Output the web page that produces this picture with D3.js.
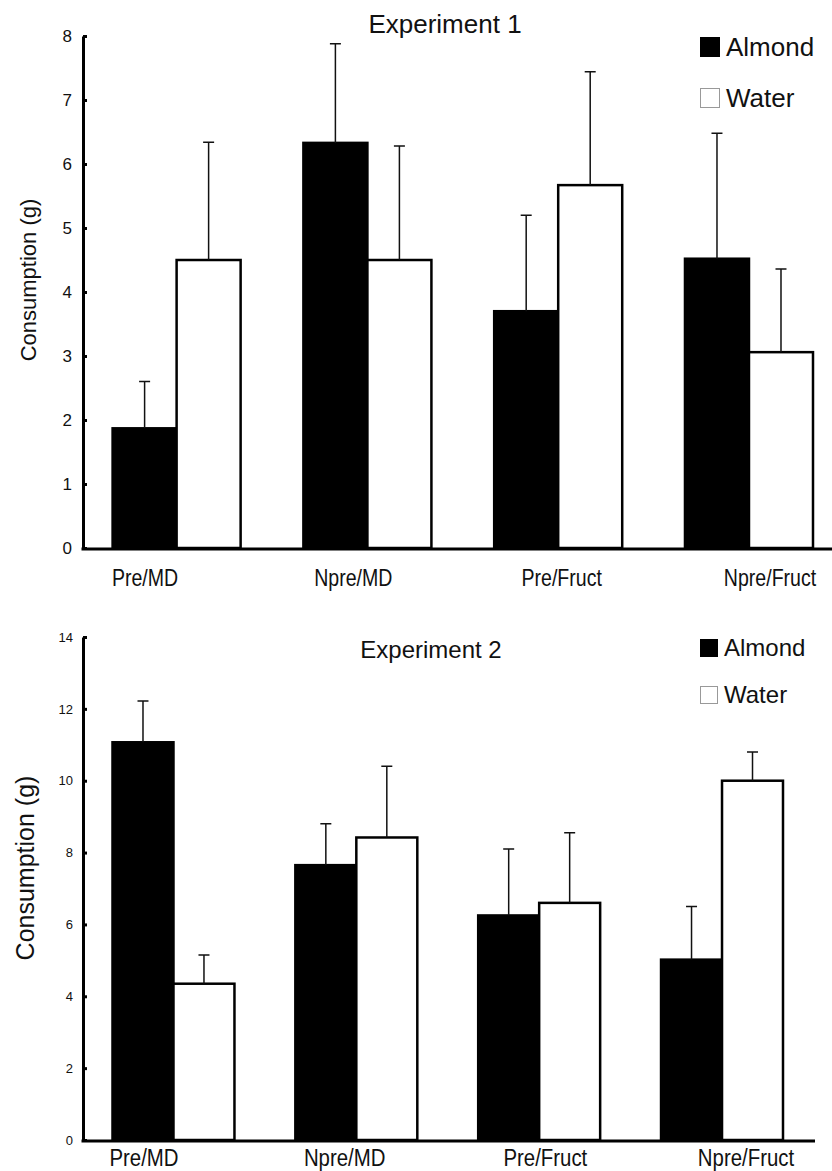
<!DOCTYPE html>
<html>
<head>
<meta charset="utf-8">
<script src="https://cdn.jsdelivr.net/npm/d3@7"></script>
<style>
  body { margin: 0; background: #fff; }
  svg { display: block; font-family: "Liberation Sans", Arial, sans-serif; }
</style>
</head>
<body>
<div id="chart"></div>
<script>
// consumption data
const categories = ["Pre/MD", "Npre/MD", "Pre/Fruct", "Npre/Fruct"];
const seriesNames = ["Almond", "Water"];

const exp1Almond = [1.87, 6.33, 3.70, 4.52];
const exp1AlmondErr = [0.73, 1.55, 1.50, 1.96];
const exp1Water = [4.50, 4.50, 5.67, 3.06];
const exp1WaterErr = [1.84, 1.78, 1.77, 1.30];
const exp1Ticks = [0, 1, 2, 3, 4, 5, 6, 7, 8];

const exp2Almond = [11.07, 7.65, 6.25, 5.02];
const exp2AlmondErr = [1.15, 1.15, 1.85, 1.48];
const exp2Water = [4.35, 8.42, 6.60, 10.00];
const exp2WaterErr = [0.80, 1.98, 1.95, 0.80];
const exp2Ticks = [0, 2, 4, 6, 8, 10, 12, 14];

let width = 832;
let height = 1171;

let svg = d3.select("#chart")
    .append("svg")
    .attr("width", width)
    .attr("height", height);

function drawPanel(cfg) {
    let rows = categories.map((c, i) => ({
        cat: c,
        vals: [
            { s: "Almond", v: cfg.almond[i], e: cfg.almondErr[i] },
            { s: "Water", v: cfg.water[i], e: cfg.waterErr[i] }
        ]
    }));

    let yScale = d3.scaleLinear()
        .domain([0, d3.max(cfg.ticks)])
        .range([cfg.yBottom, cfg.yTop]);

    let xScale = d3.scaleBand()
        .domain(categories)
        .range(cfg.xRange)
        .paddingInner(cfg.pad)
        .paddingOuter(0);

    let subScale = d3.scaleBand()
        .domain(seriesNames)
        .range([0, xScale.bandwidth()]);

    let labelScale = d3.scalePoint()
        .domain(categories)
        .range(cfg.labelRange);

    let fillScale = d3.scaleOrdinal()
        .domain(seriesNames)
        .range(["#000", "#fff"]);

    let g = svg.append("g");

    // bars
    let groups = g.selectAll(".grp")
        .data(rows)
        .enter()
        .append("g")
        .attr("transform", d => `translate(${xScale(d.cat)},0)`);

    groups.selectAll("rect")
        .data(d => d.vals)
        .enter()
        .append("rect")
        .attr("x", d => subScale(d.s))
        .attr("y", d => yScale(d.v))
        .attr("width", subScale.bandwidth())
        .attr("height", d => yScale(0) - yScale(d.v))
        .attr("fill", d => fillScale(d.s))
        .attr("stroke", "#000")
        .attr("stroke-width", 2.5);

    // error bars, upper half only
    groups.selectAll(".err")
        .data(d => d.vals)
        .enter()
        .append("path")
        .attr("d", d => {
            let cx = subScale(d.s) + subScale.bandwidth() / 2;
            let y0 = yScale(d.v), y1 = yScale(d.v + d.e);
            return `M${cx},${y0}V${y1}M${cx - 5.5},${y1}H${cx + 5.5}`;
        })
        .attr("stroke", "#111")
        .attr("stroke-width", 1.5)
        .attr("fill", "none");

    // y axis
    let yAxis = d3.axisLeft(yScale)
        .tickValues(cfg.ticks)
        .tickSizeInner(-4)
        .tickSizeOuter(0)
        .tickPadding(cfg.tickPad);

    let ax = svg.append("g")
        .attr("transform", `translate(${cfg.axisX},0)`)
        .call(yAxis);
    ax.select(".domain").attr("stroke-width", 3).attr("stroke", "#000");
    ax.selectAll(".tick line").attr("stroke-width", 3).attr("stroke", "#000");
    ax.selectAll(".tick text")
        .attr("font-size", cfg.tickFont)
        .attr("font-family", "Liberation Sans, Arial, sans-serif")
        .attr("fill", "#111");

    // x axis line
    svg.append("line")
        .attr("x1", cfg.axisX - 1.5)
        .attr("x2", cfg.axisRight)
        .attr("y1", yScale(0) + 1)
        .attr("y2", yScale(0) + 1)
        .attr("stroke", "#000")
        .attr("stroke-width", 3);

    // category labels (narrow font look)
    svg.selectAll(null)
        .data(categories)
        .enter()
        .append("text")
        .attr("transform", d => `translate(${labelScale(d)},${cfg.labelY}) scale(0.85,1)`)
        .attr("text-anchor", "middle")
        .attr("font-size", cfg.labelFont)
        .attr("fill", "#111")
        .text(d => d);

    // y title
    svg.append("text")
        .attr("transform", `translate(${cfg.yTitleX},${cfg.yTitleY}) rotate(-90)`)
        .attr("text-anchor", "middle")
        .attr("font-size", cfg.yTitleFont)
        .attr("fill", "#111")
        .text("Consumption (g)");

    // panel title
    svg.append("text")
        .attr("x", cfg.titleX)
        .attr("y", cfg.titleY)
        .attr("text-anchor", "middle")
        .attr("font-size", cfg.titleFont)
        .attr("fill", "#111")
        .text(cfg.title);

    // legend
    let leg = svg.selectAll(null)
        .data(seriesNames)
        .enter()
        .append("g")
        .attr("transform", (d, i) => `translate(${cfg.legX},${cfg.legY + i * cfg.legGap})`);
    leg.append("rect")
        .attr("x", 0.5)
        .attr("y", 0.5)
        .attr("width", cfg.legBox - 1)
        .attr("height", cfg.legBox - 1)
        .attr("fill", d => fillScale(d))
        .attr("stroke", d => d == "Almond" ? "#000" : "#999")
        .attr("stroke-width", 1);
    leg.append("text")
        .attr("x", cfg.legBox + 6)
        .attr("y", cfg.legBox - 1)
        .attr("font-size", cfg.legFont)
        .attr("fill", "#111")
        .text(d => d);
}

drawPanel({
    almond: exp1Almond, almondErr: exp1AlmondErr,
    water: exp1Water, waterErr: exp1WaterErr,
    ticks: exp1Ticks,
    yTop: 36, yBottom: 548,
    xRange: [112.6, 813], pad: 0.329,
    axisX: 83, axisRight: 832,
    tickPad: 11, tickFont: 17,
    labelRange: [145, 770], labelY: 586, labelFont: 23,
    yTitleX: 36, yTitleY: 280, yTitleFont: 22,
    title: "Experiment 1", titleX: 445, titleY: 33, titleFont: 26,
    legX: 700, legY: 37, legBox: 20, legGap: 51, legFont: 26
});

drawPanel({
    almond: exp2Almond, almondErr: exp2AlmondErr,
    water: exp2Water, waterErr: exp2WaterErr,
    ticks: exp2Ticks,
    yTop: 637, yBottom: 1140,
    xRange: [112.5, 783], pad: 0.333,
    axisX: 83, axisRight: 815,
    tickPad: 10, tickFont: 13,
    labelRange: [144, 746], labelY: 1166, labelFont: 24,
    yTitleX: 34, yTitleY: 868, yTitleFont: 25,
    title: "Experiment 2", titleX: 431, titleY: 658, titleFont: 24,
    legX: 700, legY: 639, legBox: 18, legGap: 47, legFont: 24
});
</script>
</body>
</html>
